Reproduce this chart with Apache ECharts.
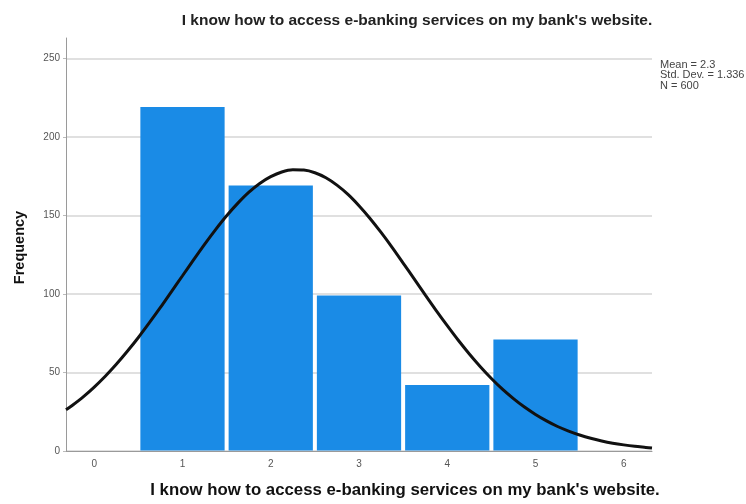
<!DOCTYPE html>
<html>
<head>
<meta charset="utf-8">
<script src="https://cdn.jsdelivr.net/npm/echarts@6/dist/echarts.min.js"></script>
<style>
  html, body { margin: 0; padding: 0; background: #fff; }
  #chart { width: 746px; height: 504px; }
</style>
</head>
<body>
<div id="chart"></div>
<script>
const titleText = "I know how to access e-banking services on my bank's website."

// answer categories (1..5) and their counts
const categories = [1, 2, 3, 4, 5]
const counts = [219, 169, 99, 42, 71]

// fitted normal curve
const curveX = [-0.32, -0.25, -0.125, 0, 0.125, 0.25, 0.375, 0.5, 0.625, 0.75, 0.875, 1, 1.125, 1.25, 1.375, 1.5, 1.625, 1.75, 1.875, 2, 2.125, 2.25, 2.375, 2.5, 2.625, 2.75, 2.875, 3, 3.125, 3.25, 3.375, 3.5, 3.625, 3.75, 3.875, 4, 4.125, 4.25, 4.375, 4.5, 4.625, 4.75, 4.875, 5, 5.125, 5.25, 5.375, 5.5, 5.625, 5.75, 5.875, 6, 6.125, 6.25, 6.32]
const curveY = [26.2, 29.0, 34.5, 40.7, 47.6, 55.2, 63.5, 72.3, 81.7, 91.4, 101.5, 111.6, 121.7, 131.6, 141.0, 149.8, 157.7, 164.7, 170.4, 174.7, 177.7, 179.1, 178.9, 177.2, 174.0, 169.3, 163.4, 156.2, 148.1, 139.2, 129.7, 119.7, 109.6, 99.4, 89.4, 79.8, 70.5, 61.8, 53.7, 46.2, 39.4, 33.4, 28.0, 23.3, 19.2, 15.6, 12.7, 10.2, 8.1, 6.4, 5.0, 3.9, 3.0, 2.3, 1.9]

const xTicks = [0, 1, 2, 3, 4, 5, 6]
const stats = ['Mean = 2.3', 'Std. Dev. = 1.336', 'N = 600']

const chart = echarts.init(document.getElementById('chart'))

const option = {
  animation: false,
  textStyle: { fontFamily: 'Liberation Sans, Arial, sans-serif' },
  title: {
    text: titleText,
    left: 412,
    top: 8,
    textAlign: 'center',
    textStyle: { fontSize: 15.5, fontWeight: 'bold', color: '#222' }
  },
  graphic: [
    {
      type: 'text',
      left: 660,
      top: 59,
      style: {
        text: stats.join('\n'),
        fontSize: 11,
        lineHeight: 10.5,
        fill: '#444',
        fontFamily: 'Liberation Sans, Arial, sans-serif'
      }
    }
  ],
  grid: { left: 66, right: 94, top: 38, bottom: 51 },
  xAxis: {
    type: 'value',
    min: -0.32,
    max: 6.32,
    name: titleText,
    nameLocation: 'middle',
    nameGap: 31,
    nameTextStyle: { fontSize: 16.8, fontWeight: 'bold', color: '#111', padding: [0, 0, 0, 92] },
    axisLine: { show: true, onZero: false, lineStyle: { color: '#9a9a9a', width: 1 } },
    axisTick: { show: false },
    splitLine: { show: false },
    axisLabel: {
      customValues: xTicks,
      fontSize: 10,
      color: '#555',
      margin: 8
    }
  },
  yAxis: {
    type: 'value',
    min: 0,
    max: 263,
    interval: 50,
    name: 'Frequency',
    nameLocation: 'middle',
    nameGap: 39,
    nameTextStyle: { fontSize: 14.5, fontWeight: 'bold', color: '#111', padding: [0, 6, 0, 0] },
    axisLine: { show: true, onZero: false, lineStyle: { color: '#9a9a9a', width: 1 } },
    axisTick: { show: true, length: 3, lineStyle: { color: '#bbb' } },
    axisLabel: { fontSize: 10, color: '#555', margin: 6, showMaxLabel: false },
    splitLine: { show: true, showMaxLine: false, lineStyle: { color: '#d6d6d6', width: 1.5 } }
  },
  series: [
    {
      type: 'custom',
      data: categories.map((c, i) => [c, counts[i]]),
      renderItem: (params, api) => {
        const x = api.value(0)
        const v = api.value(1)
        const p0 = api.coord([x - 0.5, v])
        const p1 = api.coord([x + 0.5, 0])
        return {
          type: 'rect',
          shape: { x: p0[0] + 2, y: p0[1], width: p1[0] - p0[0] - 4, height: p1[1] - p0[1] - 0.5 },
          style: { fill: '#1a8be6' }
        }
      },
      z: 2
    },
    {
      type: 'line',
      data: curveX.map((x, i) => [x, curveY[i]]),
      smooth: 0.3,
      symbol: 'none',
      lineStyle: { color: '#111', width: 3 },
      z: 3
    }
  ]
}

chart.setOption(option)
</script>
</body>
</html>
